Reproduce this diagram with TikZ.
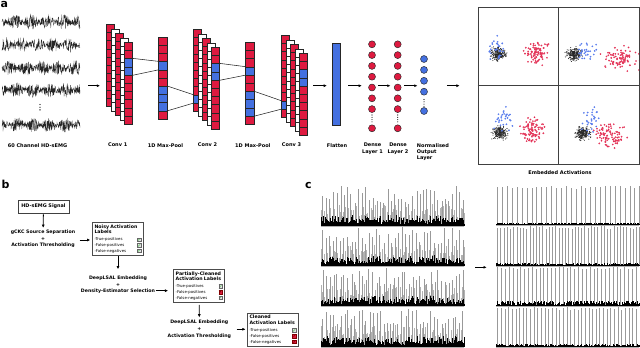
\documentclass[tikz,border=0pt]{standalone}
\usepackage{fontspec}
\setmainfont{DejaVu Sans}
\usetikzlibrary{positioning,arrows.meta}
\definecolor{cellred}{RGB}{222,26,64}
\definecolor{cellblue}{RGB}{68,112,224}
\definecolor{ptblue}{RGB}{70,110,235}
\definecolor{ptred}{RGB}{225,30,70}
\definecolor{chkgreen}{RGB}{40,185,40}
\setlength{\fboxsep}{0.1pt}
\setlength{\fboxrule}{0.4pt}
\newcommand{\yesbox}{\fcolorbox{black!60}{black!12}{\rule{0pt}{2.9pt}\makebox[3.1pt]{\smash{\raisebox{-0.4pt}{\textcolor{chkgreen}{\fontsize{4.8}{4}\selectfont\bfseries ✓}}}}}}
\newcommand{\nobox}{\fcolorbox{red!50!black}{cellred}{\rule{0pt}{2.9pt}\makebox[3.1pt]{\smash{\textcolor{red!45!black}{\fontsize{3.6}{4}\selectfont\bfseries ✗}}}}}
\newcommand{\boxtitle}{\fontsize{4.7}{5.7}\selectfont\bfseries}
\tikzset{
  lbl/.style={font=\fontsize{5}{6.4}\selectfont\bfseries, align=center, inner sep=0pt, anchor=north},
  steptext/.style={font=\fontsize{4.7}{6.7}\selectfont\bfseries, align=center, inner sep=0pt},
  netcell/.style={draw=black!85, line width=0.45pt, minimum width=8pt, minimum height=8.2pt, inner sep=0pt, anchor=north west},
  neuron/.style={circle, draw=black!85, line width=0.45pt, minimum size=7pt, inner sep=0pt},
  arr/.style={-{Latex[length=3.2pt,width=3pt]}, line width=0.8pt},
  conn/.style={line width=0.55pt, black!85},
  hdbox/.style={draw=black!75, line width=0.6pt, minimum width=51pt, minimum height=13pt, font=\fontsize{4.9}{5}\selectfont\bfseries, inner sep=0pt},
  labelbox/.style={draw=black!70, line width=0.55pt, align=left, text width=47pt, inner sep=2pt, font=\fontsize{3.9}{5.7}\selectfont},
  panel/.style={font=\fontsize{11}{11}\selectfont\bfseries, anchor=base west, inner sep=0pt},
}
% conv layer: name, x, y of back column, blue cell of back column
\newcommand{\convstack}[4]{%
  \foreach \l in {0,...,4}{
    \foreach \c in {0,...,9}{
      \pgfmathtruncatemacro{\isblue}{(\l==4 && (\c==2 || \c==3)) || (\l==0 && \c==#4)}
      \pgfmathtruncatemacro{\isodd}{mod(\l,2)}
      \ifnum\isblue=1 \def\cf{cellblue}\else\ifnum\isodd=1 \def\cf{white}\else\def\cf{cellred}\fi\fi
      \node[netcell, fill=\cf] (#1-\l-\c) at ({#2+4.6*\l},{#3+4.5*\l+8.2*\c}) {};
    }
  }
}
% max-pool column: name, x, y
\newcommand{\poolcol}[3]{%
  \foreach \c in {0,...,9}{
    \pgfmathtruncatemacro{\isblue}{\c==3 || \c==6 || \c==7 || \c==8}
    \ifnum\isblue=1 \def\cf{cellblue}\else\def\cf{cellred}\fi
    \node[netcell, fill=\cf, minimum width=8.5pt] (#1-\c) at ({#2},{#3+8.2*\c}) {};
  }
}
\begin{document}
\begin{tikzpicture}[x=1pt,y=-1pt]
\pgfmathsetseed{11}
\useasboundingbox (0,0) rectangle (640,348);
\coordinate (row) at (0,85.7);

%%% a
\node[panel] (pa) at (0.5,7.2) {a};
% segnali HD-sEMG
\foreach \yc in {22,45,68,90,125}
  \draw[black!85, line width=0.3pt] plot[domain=2:80, samples=300] (\x,{\yc+(2+5.5*abs(sin(\x*11+\yc*5)))*rand});
\foreach \t in {0,1,2}
  \fill (40,{104.5+2.7*\t}) circle (0.7pt);
\coordinate (emg-e) at (88,85.7);

% rete
\convstack{c1}{106}{24}{-1}
\poolcol{p1}{158}{36.7}
\convstack{c2}{193}{29}{8}
\poolcol{p2}{245}{42}
\convstack{c3}{281}{35}{8}
\draw[conn] (c1-4-2.north east) -- (p1-3.north west);
\draw[conn] (c1-4-3.south east) -- (p1-3.south west);
\draw[conn] (p1-6.north east) -- (c2-0-8.north west);
\draw[conn] (p1-8.south east) -- (c2-0-8.south west);
\draw[conn] (c2-4-2.north east) -- (p2-3.north west);
\draw[conn] (c2-4-3.south east) -- (p2-3.south west);
\draw[conn] (p2-6.north east) -- (c3-0-8.north west);
\draw[conn] (p2-8.south east) -- (c3-0-8.south west);

\node[draw=black!85, line width=0.5pt, fill=cellblue, minimum width=8.3pt, minimum height=82pt, inner sep=0pt] (flat) at (336,84) {};
% dense
\foreach \k in {1,...,7}{
  \node[neuron, fill=cellred] (d1-\k) at (372,{44.3+10.8*(\k-1)}) {};
  \node[neuron, fill=cellred] (d2-\k) at (397.7,{44.3+10.8*(\k-1)}) {};
}
\node[neuron, fill=cellred] (d1-8) at (372,128.3) {};
\node[neuron, fill=cellred] (d2-8) at (397.7,128.3) {};
\foreach \k in {1,...,4}
  \node[neuron, fill=cellblue] (o-\k) at (424,{59+10.9*(\k-1)}) {};
\node[neuron, fill=cellblue] (o-5) at (424,111) {};
\foreach \t in {0,...,3}{
  \fill (372,{115+2.3*\t}) circle (0.55pt);
  \fill (397.7,{115+2.3*\t}) circle (0.55pt);
  \fill (424,{99.5+2.3*\t}) circle (0.55pt);
}

% embedding
\foreach \qx/\qy/\bx/\by/\bdx/\bdy/\rx/\ry/\rw/\rh in {478/7.5/498/54/0/-6/537/53/10/9, 558.5/7.5/574/54/12/-2/620/57/15/10, 478/85.7/500/133/2/-14/532/130/10/10, 558.5/85.7/583/133/8/-12/610/135/13/10}{
  \begin{scope}
    \clip (\qx,\qy) rectangle ++(80.5,78.2);
    \foreach \i in {1,...,90}
      \filldraw[draw=ptred, fill=ptred!35, line width=0.3pt] ({\rx+0.55*\rw*(rand+rand+rand)},{\ry+0.55*\rh*(rand+rand+rand)}) circle (0.7pt);
    \foreach \i in {1,...,230}
      \fill[black!85] ({\bx+3.5*(rand+rand+rand)},{\by+2.9*(rand+rand+rand)}) circle (0.55pt);
    \foreach \i in {1,...,30}
      \filldraw[draw=ptblue, fill=ptblue!35, line width=0.3pt] ({\bx+\bdx+6*(rand+rand)},{\by+\bdy+7*(rand+rand)}) circle (0.7pt);
  \end{scope}
}
\node[draw=black!75, line width=0.7pt, minimum width=161pt, minimum height=156.5pt, inner sep=0pt] (emb) at (558.5,85.75) {};
\draw[black!75, line width=0.7pt] (emb.north) -- (emb.south);
\draw[black!75, line width=0.7pt] (emb.west) -- (emb.east);

% frecce
\draw[arr, shorten >=6pt] (emg-e) -- (emg-e -| c1-0-5.west);
\draw[arr, shorten <=5.6pt, shorten >=4.7pt] (c3-4-4.east |- row) -- (flat.west |- row);
\draw[arr, shorten <=8pt, shorten >=6.5pt] (flat.east |- row) -- (d1-5.west |- row);
\draw[arr, shorten <=2.3pt, shorten >=3.5pt] (d1-5.east |- row) -- (d2-5.west |- row);
\draw[arr, shorten <=2.8pt, shorten >=2.8pt] (d2-5.east |- row) -- (o-3.west |- row);
\draw[arr, shorten <=19.2pt, shorten >=18pt] (o-3.east |- row) -- (emb.west |- row);

% etichette
\node[lbl] (l-emg) at (37.5,143) {60 Channel HD-sEMG};
\node[lbl] (l-c1) at (117.7,143) {Conv 1};
\node[lbl] (l-p1) at (165.5,143) {1D Max-Pool};
\node[lbl] (l-c2) at (207.5,143) {Conv 2};
\node[lbl] (l-p2) at (252.8,143) {1D Max-Pool};
\node[lbl] (l-c3) at (291.5,143) {Conv 3};
\node[lbl] (l-fl) at (337,143) {Flatten};
\node[lbl] (l-d1) at (372.5,143) {Dense\\Layer 1};
\node[lbl] (l-d2) at (398,143) {Dense\\Layer 2};
\node[lbl, anchor=north west, align=left] (l-out) at (416.7,143) {Normalised\\Output\\Layer};
\node[lbl] (l-emb) at (560,170.2) {Embedded Activations};

%%% b
\node[panel] (pb) at (1.5,188) {b};
\node[hdbox] (hd) at (43.5,206.5) {HD-sEMG Signal};
\node[steptext] (gckc) at (43,239) {gCKC Source Separation\\+\\Activation Thresholding};
\node[labelbox] (noisy) at (118,238.9) {{\boxtitle Noisy Activation}\\{\boxtitle Labels}\\[1.4pt]-True-positives\hfill\yesbox\\-False-positives\hfill\yesbox\\-False-negatives\hfill\yesbox};
\node[steptext] (deep1) at (118,285) {DeepLSAL Embedding\\+\\Density-Estimator Selection};
\node[labelbox] (partial) at (199.2,285.8) {{\boxtitle Partially-Cleaned}\\{\boxtitle Activation Labels}\\[1.4pt]-True-positives\hfill\yesbox\\-False-positives\hfill\nobox\\-False-negatives\hfill\yesbox};
\node[steptext] (deep2) at (199.3,329.3) {DeepLSAL Embedding\\+\\Activation Thresholding};
\node[labelbox] (clean) at (273,329.7) {{\boxtitle Cleaned}\\{\boxtitle Activation Labels}\\[1.4pt]-True-positives\hfill\yesbox\\-False-positives\hfill\nobox\\-False-negatives\hfill\nobox};
\draw[arr, shorten <=1pt, shorten >=2pt] (hd) -- (gckc);
\draw[arr, shorten <=4.4pt, shorten >=2pt] ([yshift=-1pt]gckc.east) -- ([yshift=-1pt]gckc.east -| noisy.west);
\draw[arr, shorten <=1pt, shorten >=6.5pt] (noisy) -- (deep1);
\draw[arr, shorten <=0.5pt, shorten >=5.3pt] ([yshift=-5.7pt]deep1.east) -- ([yshift=-5.7pt]deep1.east -| partial.west);
\draw[arr, shorten <=2.4pt, shorten >=2.7pt] (partial) -- (deep2);
\draw[arr, shorten <=5.5pt, shorten >=1.7pt] (deep2.east) -- (deep2.east -| clean.west);

%%% c
\node[panel] (pc) at (305,188.3) {c};
% attivazioni grezze
\foreach \base/\ht in {225.7/39.7, 266/39.3, 306/38, 346.7/38.7}{
  \begin{scope}[shift={(0,\base)}]
    \draw[gray!60, line width=0.3pt] plot[ycomb, domain=321:464, samples=90] (\x,{-(8+14*rnd)});
    \foreach \i in {0,...,39}
      \draw[gray!80, line width=0.45pt] ({322.5+\i*3.6+0.8*rand},0) -- ++(0,{-\ht*(0.55+0.45*rnd)});
    \draw[black, line width=0.3pt] plot[ycomb, domain=321:464, samples=380] (\x,{-(1.5+10*rnd*rnd)});
    \draw[gray!60, line width=0.3pt] (321,0) -- (464,0);
  \end{scope}
}
% attivazioni pulite
\foreach \base/\ht/\n/\sp/\nz in {225/39/29/4.9/2, 265.7/39.7/44/3.23/2, 306/39.3/37/3.85/5, 346.7/39.7/39/3.65/2}{
  \begin{scope}[shift={(0,\base)}]
    \foreach \i in {0,...,\n}
      \draw[gray!80, line width=0.5pt] ({497.5+\i*\sp},0) -- ++(0,{-\ht*(0.93+0.07*rnd)});
    \draw[black, line width=0.3pt] plot[ycomb, domain=496:639, samples=200] (\x,{-(0.5+\nz*rnd)});
    \draw[gray!60, line width=0.3pt] (496,0) -- (639,0);
  \end{scope}
}
\coordinate (raw-e) at (475,267.3);
\coordinate (clean-s) at (486.7,267.3);
\draw[arr] (raw-e) -- (clean-s);
\end{tikzpicture}
\end{document}
